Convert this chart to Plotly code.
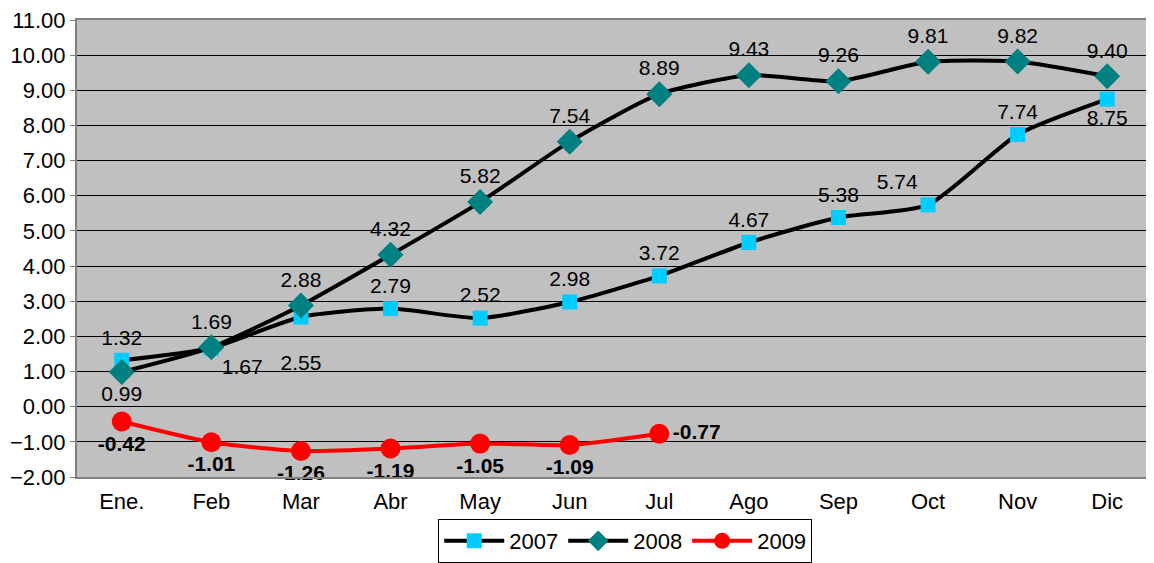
import plotly.graph_objects as go

meses = ['Ene.', 'Feb', 'Mar', 'Abr', 'May', 'Jun', 'Jul', 'Ago', 'Sep', 'Oct', 'Nov', 'Dic']
val_2007 = [1.32, 1.67, 2.55, 2.79, 2.52, 2.98, 3.72, 4.67, 5.38, 5.74, 7.74, 8.75]
val_2008 = [0.99, 1.69, 2.88, 4.32, 5.82, 7.54, 8.89, 9.43, 9.26, 9.81, 9.82, 9.40]
val_2009 = [-0.42, -1.01, -1.26, -1.19, -1.05, -1.09, -0.77]

pos_2007 = ['top center', 'bottom right', 'bottom center', 'top center', 'top center', 'top center',
            'top center', 'top center', 'top center', 'top left', 'top center', 'bottom center']
pos_2008 = ['bottom center'] + ['top center'] * 11
pos_2009 = ['bottom center'] * 6 + ['middle right']

# etiquetas 2007 (la de marzo va mas abajo para no pisar el rombo)
txt_2007 = ['%.2f' % v for v in val_2007]
txt_2007[2] = '<br>' + txt_2007[2]

fnt = dict(family='Liberation Sans, Arial', size=21, color='black')

fig = go.Figure()

fig.add_trace(go.Scatter(
    x=meses, y=val_2007, name='2007', mode='lines+markers+text',
    line=dict(color='black', width=4, shape='spline', smoothing=0.6),
    marker=dict(symbol='square', size=15, color='#00CCFF'),
    text=txt_2007, textposition=pos_2007,
    textfont=fnt, cliponaxis=False))

fig.add_trace(go.Scatter(
    x=meses, y=val_2008, name='2008', mode='lines+markers+text',
    line=dict(color='black', width=4, shape='spline', smoothing=0.6),
    marker=dict(symbol='diamond', size=20, color='#008080'),
    text=['%.2f' % v for v in val_2008], textposition=pos_2008,
    textfont=fnt, cliponaxis=False))

fig.add_trace(go.Scatter(
    x=meses[:len(val_2009)], y=val_2009, name='2009', mode='lines+markers+text',
    line=dict(color='#FF0000', width=4, shape='spline', smoothing=0.6),
    marker=dict(symbol='circle', size=20, color='#FF0000'),
    text=['<b>%.2f</b>' % v for v in val_2009], textposition=pos_2009,
    textfont=fnt, cliponaxis=False))

fig.update_layout(
    width=1146, height=555,
    margin=dict(l=69, r=0, t=9, b=84),
    paper_bgcolor='white',
    plot_bgcolor='#C0C0C0',
    font=fnt,
    showlegend=True,
    legend=dict(orientation='h', x=0.51, xanchor='center', y=-0.093, yanchor='top',
                bordercolor='black', borderwidth=1, font=dict(size=22),
                itemwidth=60, tracegroupgap=0, bgcolor='white'),
    xaxis=dict(type='category', range=[-0.5, 11.5], showgrid=False,
               showline=True, linecolor='#808080', linewidth=2, mirror=True,
               ticks='', tickfont=dict(size=22), ticklabelstandoff=4),
    yaxis=dict(range=[-2, 11], dtick=1, tickformat='.2f', showgrid=True,
               gridcolor='black', gridwidth=1, zeroline=False,
               showline=True, linecolor='#808080', linewidth=2, mirror=True,
               ticks='outside', ticklen=5, tickcolor='#808080', tickfont=dict(size=22),
               ticklabeloverflow='allow'),
    xaxis2=dict(overlaying='x', anchor='free', position=2 / 13, range=[-0.5, 11.5],
                tickvals=[i - 0.5 for i in range(13)], showticklabels=False,
                ticks='outside', ticklen=6, tickcolor='black', showgrid=False,
                showline=True, linecolor='black', linewidth=1, zeroline=False),
)

fig.write_html("out.html")
